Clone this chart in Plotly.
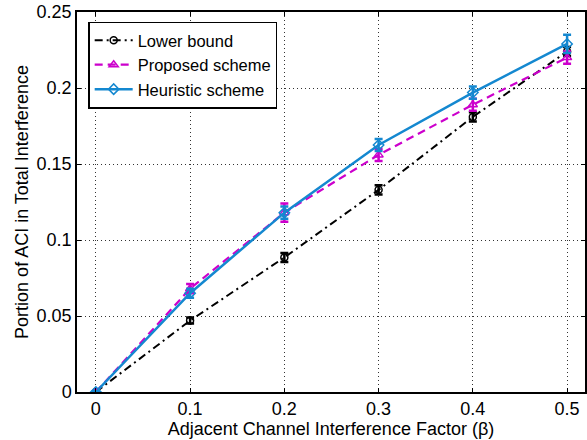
import plotly.graph_objects as go

beta = [0, 0.1, 0.2, 0.3, 0.4, 0.5]
lower = [0.0, 0.047, 0.0885, 0.133, 0.181, 0.224]
lower_err = [0.0005, 0.002, 0.003, 0.003, 0.003, 0.003]
proposed = [0.0, 0.068, 0.118, 0.156, 0.189, 0.220]
proposed_err = [0.0005, 0.003, 0.006, 0.004, 0.004, 0.004]
heuristic = [0.0, 0.065, 0.118, 0.1625, 0.197, 0.229]
heuristic_err = [0.0005, 0.003, 0.004, 0.004, 0.004, 0.006]

BLUE = "#1488d0"
MAG = "#cc00cc"
font = "Liberation Sans, Arial, sans-serif"

fig = go.Figure()
fig.add_trace(go.Scatter(
    x=beta, y=lower, name="Lower bound", mode="lines+markers",
    line=dict(color="black", width=2, dash="8px,4px,2px,4px"),
    marker=dict(symbol="circle-open", size=7, color="black", line=dict(width=1.5)),
    error_y=dict(type="data", array=lower_err, color="black", thickness=2.5, width=4),
))
fig.add_trace(go.Scatter(
    x=beta, y=proposed, name="Proposed scheme", mode="lines+markers",
    line=dict(color=MAG, width=2.2, dash="8px,5px"),
    marker=dict(symbol="triangle-up-open", size=8, color=MAG, line=dict(width=1.5)),
    error_y=dict(type="data", array=proposed_err, color=MAG, thickness=2.5, width=4),
))
fig.add_trace(go.Scatter(
    x=beta, y=heuristic, name="Heuristic scheme", mode="lines+markers",
    line=dict(color=BLUE, width=2.5),
    marker=dict(symbol="diamond-open", size=8, color=BLUE, line=dict(width=1.5)),
    error_y=dict(type="data", array=heuristic_err, color=BLUE, thickness=2.5, width=4),
))

axis_common = dict(
    showline=True, linecolor="black", linewidth=1.5, mirror="ticks",
    ticks="inside", ticklen=4, tickcolor="black",
    showgrid=True, gridcolor="#333333", griddash="1px,3px", gridwidth=1,
    zeroline=False, tickfont=dict(family=font, size=18, color="black"),
)

fig.update_layout(
    width=587, height=440,
    margin=dict(l=77, r=0, t=12, b=48),
    paper_bgcolor="white", plot_bgcolor="white",
    font=dict(family=font, size=18, color="black"),
    xaxis=dict(range=[-0.02, 0.519], tickvals=beta,
               ticktext=["0", "0.1", "0.2", "0.3", "0.4", "0.5"],
               title=dict(text="Adjacent Channel Interference Factor (β)", standoff=0,
                          font=dict(family=font, size=18)),
               **axis_common),
    yaxis=dict(range=[0, 0.25], tickvals=[0, 0.05, 0.1, 0.15, 0.2, 0.25],
               ticktext=["0", "0.05", "0.1", "0.15", "0.2", "0.25"],
               title=dict(text="Portion of ACI in Total Interference", standoff=3,
                          font=dict(family=font, size=18)),
               **axis_common),
    legend=dict(x=0.022, y=0.975, xanchor="left", yanchor="top",
                bgcolor="white", bordercolor="black", borderwidth=1.5,
                font=dict(family=font, size=16.5), tracegroupgap=0,
                itemwidth=38),
    showlegend=True,
)

fig.write_html("out.html")
